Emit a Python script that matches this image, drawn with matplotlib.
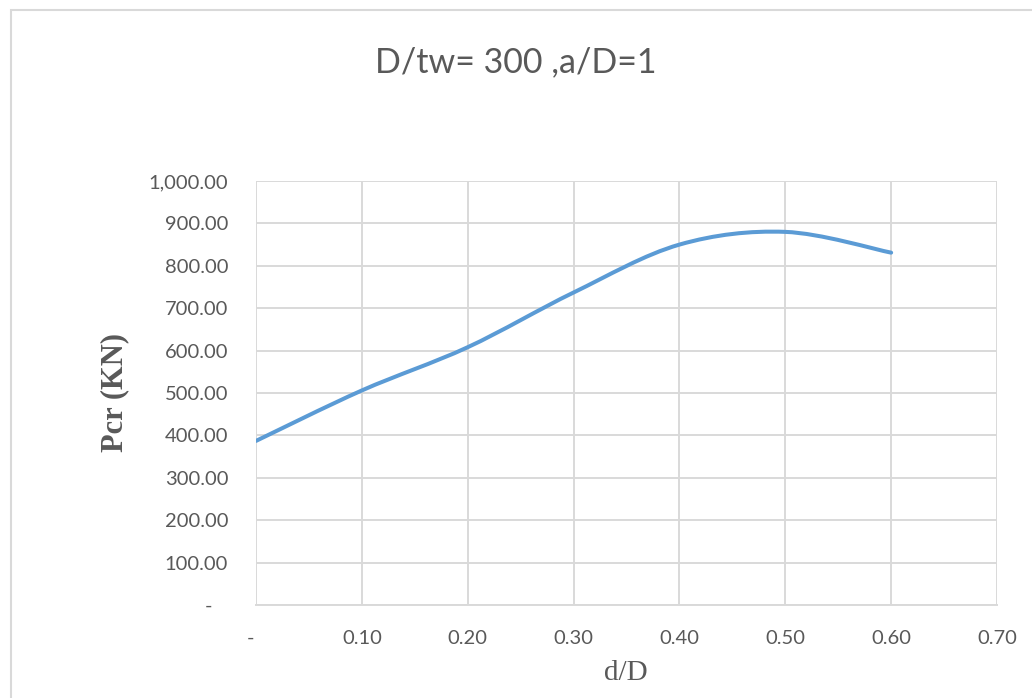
import numpy as np
import matplotlib
matplotlib.use("Agg")
import matplotlib.pyplot as plt
from matplotlib.path import Path
from matplotlib.patches import PathPatch, Rectangle

# d/D ratio and critical load Pcr (KN), D/tw = 300, a/D = 1
d_D = [0.0, 0.1, 0.2, 0.3, 0.4, 0.5, 0.6]
pcr = [387, 506, 608, 737, 850, 880, 831]

x_ticks = [0.0, 0.1, 0.2, 0.3, 0.4, 0.5, 0.6, 0.7]
y_ticks = [0, 100, 200, 300, 400, 500, 600, 700, 800, 900, 1000]

GRID = "#d9d9d9"
TXT = "#595959"
LINE = "#5b9bd5"

fig = plt.figure(figsize=(10.32, 6.98), dpi=100)
ax = fig.add_axes([256 / 1032, 1 - 605 / 698, 741 / 1032, 424 / 698])

# smoothed line (bezier through each point, like a spreadsheet "smoothed line")
pts = np.column_stack([d_D, pcr]).astype(float)
ext = np.vstack([pts[0], pts, pts[-1]])
verts = [tuple(pts[0])]
codes = [Path.MOVETO]
for i in range(len(pts) - 1):
    p0, p1, p2, p3 = ext[i], ext[i + 1], ext[i + 2], ext[i + 3]
    c1 = p1 + (p2 - p0) / 6
    c2 = p2 - (p3 - p1) / 6
    verts += [tuple(c1), tuple(c2), tuple(p2)]
    codes += [Path.CURVE4] * 3
ax.add_patch(PathPatch(Path(verts, codes), facecolor="none", edgecolor=LINE,
                       lw=2.9, capstyle="round", joinstyle="round", zorder=3))

ax.set_xlim(0, 0.7)
ax.set_ylim(0, 1000)
ax.set_xticks(x_ticks)
ax.set_yticks(y_ticks)
ax.set_xticklabels(["-  "] + [f"{v:.2f}" for v in x_ticks[1:]])
ax.set_yticklabels(["-   "] + [f"{v:,.2f}" for v in y_ticks[1:]])
ax.grid(True, color=GRID, lw=1.4)
ax.set_axisbelow(True)
for s in ax.spines.values():
    s.set_visible(False)
ax.spines["bottom"].set_visible(True)
ax.spines["bottom"].set_color(GRID)
ax.spines["bottom"].set_linewidth(1.4)
ax.tick_params(length=0, colors=TXT, labelsize=14.5)
ax.tick_params(axis="y", pad=20)
ax.tick_params(axis="x", pad=18)
for lab in ax.get_xticklabels() + ax.get_yticklabels():
    lab.set_family("Lato")

fig.text(0.5, 1 - 62 / 698, "D/tw= 300 ,a/D=1", ha="center", va="center",
         fontsize=24.5, color=TXT, family="Lato")
fig.text(115 / 1032, 1 - 393 / 698, "Pcr (KN)", rotation=90, ha="center",
         va="center", fontsize=22, fontweight="bold", color=TXT,
         family="Liberation Serif")
fig.text(626 / 1032, 1 - 673 / 698, "d/D", ha="center", va="center",
         fontsize=21, color=TXT, family="Liberation Serif")

# chart area border
fig.patches.append(Rectangle((11 / 1032, -0.1), 1.2, 1 - 10 / 698 + 0.1,
                             transform=fig.transFigure, fill=False,
                             edgecolor=GRID, lw=1.5))

fig.savefig("out.png", dpi=100)
